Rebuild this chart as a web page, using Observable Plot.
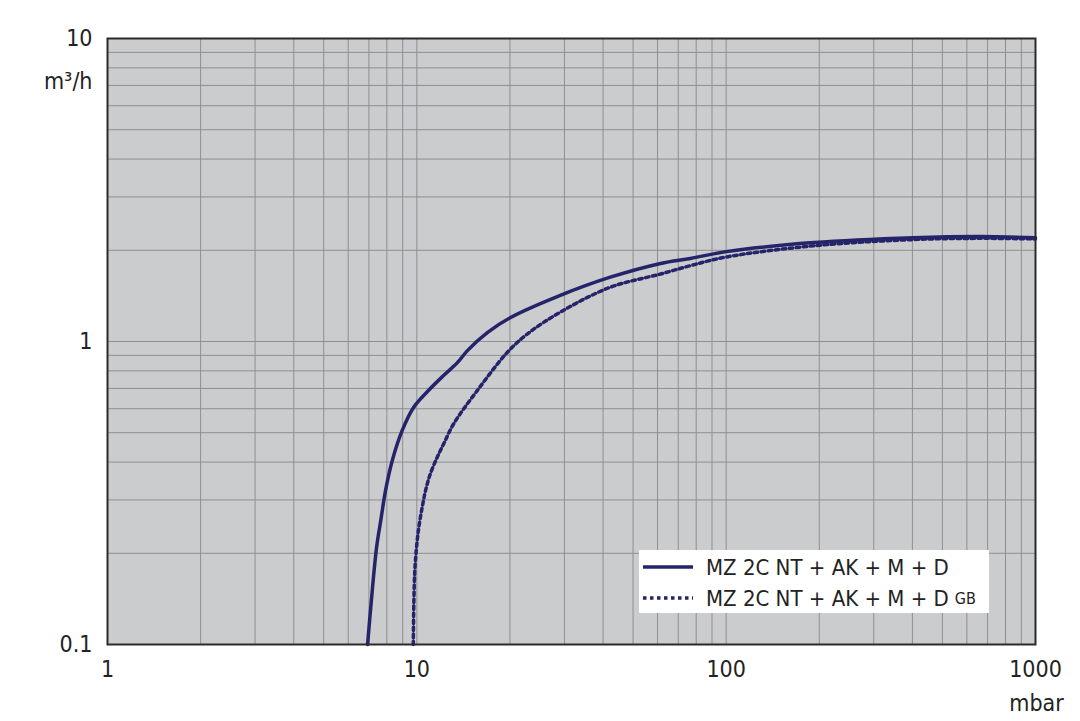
<!DOCTYPE html>
<html>
<head>
<meta charset="utf-8">
<script src="https://cdn.jsdelivr.net/npm/d3@7"></script>
<script src="https://cdn.jsdelivr.net/npm/@observablehq/plot@0.6"></script>
<style>
  html, body { margin: 0; padding: 0; background: #fff; }
  #wrap { position: relative; width: 1080px; height: 721px; font-family: "DejaVu Sans Condensed", "DejaVu Sans", sans-serif; }
  #legend { position: absolute; left: 639px; top: 550px; width: 350px; height: 63px; background: #fff; font-size: 22px; color: #222; }
  .row { position: absolute; left: 4px; height: 30px; display: flex; align-items: center; }
  .row svg { margin-right: 13px; }
  .gb { font-size: 16px; margin-left: 6px; }
</style>
</head>
<body>
<div id="wrap"></div>
<script>
// Series: pressure (mbar) vs pumping speed (m³/h)
const solidP = [6.93, 7.13, 7.41, 7.67, 7.92, 8.33, 8.97, 9.76, 10.9, 12.2, 13.5, 14.6, 16.9, 20.1, 29.1, 42.2, 61.4, 76.7, 100, 192, 403, 664, 1000];
const solidS = [0.1, 0.14, 0.209, 0.262, 0.322, 0.405, 0.509, 0.606, 0.689, 0.772, 0.85, 0.935, 1.07, 1.2, 1.42, 1.63, 1.81, 1.88, 1.98, 2.12, 2.2, 2.22, 2.2];
const dotP = [9.74, 9.78, 9.85, 9.98, 10.15, 10.41, 10.67, 11.07, 11.64, 12.23, 13.17, 15.7, 19.6, 22.8, 29.1, 42.2, 61.4, 76.7, 100, 192, 403, 664, 1000];
const dotS = [0.1, 0.137, 0.175, 0.21, 0.244, 0.284, 0.322, 0.367, 0.415, 0.461, 0.536, 0.69, 0.92, 1.06, 1.25, 1.51, 1.67, 1.78, 1.9, 2.07, 2.17, 2.19, 2.18];
const seriesNames = ["MZ 2C NT + AK + M + D", "MZ 2C NT + AK + M + D"];
const xTicks = [1, 10, 100, 1000];
const yTicks = [0.1, 1, 10];
const xUnit = "mbar";
const yUnit = "m³/h";

const xGrid = [];
[1, 10, 100].forEach(d => { for (let k = 2; k <= 10; k++) xGrid.push(d * k); });
const yGrid = [];
[0.1, 1].forEach(d => { for (let k = 2; k <= 10; k++) yGrid.push(d * k); });

const solid = solidP.map((p, i) => ({p, s: solidS[i]}));
const dotted = dotP.map((p, i) => ({p, s: dotS[i]}));

const navy = "#25246b";
const font = "\"DejaVu Sans Condensed\", \"DejaVu Sans\", sans-serif";

const chart = Plot.plot({
  width: 1080,
  height: 721,
  marginLeft: 107,
  marginRight: 45,
  marginTop: 38,
  marginBottom: 77,
  style: {fontFamily: font, fontSize: "23px", color: "#222", background: "#fff"},
  x: {type: "log", domain: [1, 1000], axis: null},
  y: {type: "log", domain: [0.1, 10], axis: null},
  marks: [
    Plot.rect([0], {x1: 1, x2: 1000, y1: 0.1, y2: 10, fill: "#cbcccd"}),
    Plot.ruleX(xGrid, {stroke: "#8e8f91", strokeWidth: 1}),
    Plot.ruleY(yGrid, {stroke: "#8e8f91", strokeWidth: 1}),
    Plot.line(solid, {x: "p", y: "s", stroke: navy, strokeWidth: 3.5, curve: "catmull-rom"}),
    Plot.line(dotted, {x: "p", y: "s", stroke: navy, strokeWidth: 3.5, strokeDasharray: "3.5,3.5", curve: "catmull-rom"}),
    Plot.frame({stroke: "#2a2a2a", strokeWidth: 2}),
    Plot.axisX(xTicks, {label: null, tickSize: 0, tickPadding: 16, tickFormat: d => String(d), fontSize: 23, fill: "#222"}),
    Plot.axisY(yTicks, {label: null, tickSize: 0, tickPadding: 15, tickFormat: d => String(d), fontSize: 23, fill: "#222"}),
    Plot.text([yUnit], {frameAnchor: "top-left", dx: -15, dy: 34, textAnchor: "end", fontSize: 23, fill: "#222"}),
    Plot.text([xUnit], {frameAnchor: "bottom-right", dx: 1, dy: 66, textAnchor: "middle", fontSize: 23, fill: "#222"})
  ]
});

const wrap = document.getElementById("wrap");
wrap.appendChild(chart);

const legend = document.createElement("div");
legend.id = "legend";
legend.innerHTML = `
  <div class="row" style="top:2px"><svg width="50" height="6"><line x1="0" x2="50" y1="3" y2="3" stroke="${navy}" stroke-width="3.5"/></svg><span>${seriesNames[0]}</span></div>
  <div class="row" style="top:33px"><svg width="50" height="6"><line x1="0" x2="50" y1="3" y2="3" stroke="${navy}" stroke-width="3.5" stroke-dasharray="3.5,3.5"/></svg><span>${seriesNames[1]}</span><span class="gb">GB</span></div>
`;
wrap.appendChild(legend);
</script>
</body>
</html>
